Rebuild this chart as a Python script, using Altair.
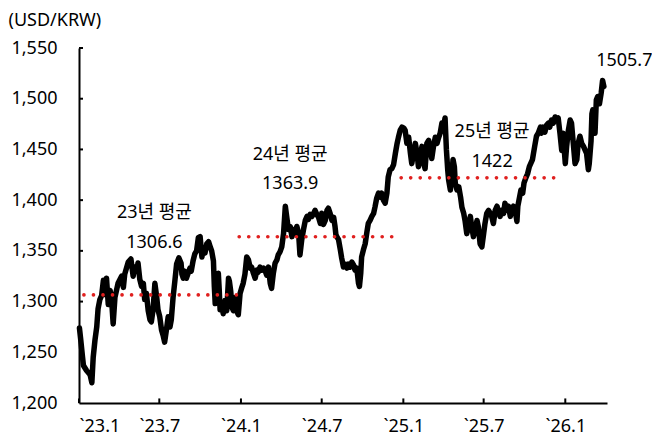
import altair as alt
import pandas as pd

# ---- USD/KRW series ----
dates = [
    "2023-01-02", "2023-01-05", "2023-01-09", "2023-01-11", "2023-01-18", "2023-01-26", "2023-01-30",
    "2023-02-02", "2023-02-06", "2023-02-10", "2023-02-13", "2023-02-17", "2023-02-21", "2023-02-25",
    "2023-02-28", "2023-03-04", "2023-03-08", "2023-03-12", "2023-03-15", "2023-03-19", "2023-03-23",
    "2023-03-27", "2023-03-30", "2023-04-07", "2023-04-11", "2023-04-14", "2023-04-22", "2023-04-28",
    "2023-05-03", "2023-05-07", "2023-05-11", "2023-05-14", "2023-05-18", "2023-05-22", "2023-05-26",
    "2023-05-29", "2023-06-02", "2023-06-06", "2023-06-10", "2023-06-13", "2023-06-17", "2023-06-21",
    "2023-06-25", "2023-06-28", "2023-07-02", "2023-07-06", "2023-07-10", "2023-07-13", "2023-07-17",
    "2023-07-21", "2023-07-25", "2023-07-28", "2023-08-01", "2023-08-05", "2023-08-09", "2023-08-14",
    "2023-08-19", "2023-08-21", "2023-08-24", "2023-08-27", "2023-08-31", "2023-09-08", "2023-09-11",
    "2023-09-15", "2023-09-19", "2023-09-23", "2023-09-27", "2023-10-01", "2023-10-05", "2023-10-08",
    "2023-10-12", "2023-10-16", "2023-10-20", "2023-10-23", "2023-10-27", "2023-10-31", "2023-11-02",
    "2023-11-04", "2023-11-07", "2023-11-11", "2023-11-13", "2023-11-15", "2023-11-19", "2023-11-22",
    "2023-11-26", "2023-11-30", "2023-12-04", "2023-12-06", "2023-12-09", "2023-12-12", "2023-12-15",
    "2023-12-19", "2023-12-22", "2023-12-26", "2023-12-30",
    "2024-01-03", "2024-01-06", "2024-01-10", "2024-01-14", "2024-01-18", "2024-01-22", "2024-01-25",
    "2024-01-29", "2024-02-02", "2024-02-06", "2024-02-09", "2024-02-13", "2024-02-17", "2024-02-21",
    "2024-02-24", "2024-02-28", "2024-03-03", "2024-03-07", "2024-03-10", "2024-03-14", "2024-03-18",
    "2024-03-22", "2024-03-25", "2024-03-29", "2024-04-02", "2024-04-06", "2024-04-10", "2024-04-13",
    "2024-04-17", "2024-04-21", "2024-04-25", "2024-04-28", "2024-05-02", "2024-05-06", "2024-05-10",
    "2024-05-13", "2024-05-17", "2024-05-21", "2024-05-25", "2024-05-29", "2024-06-01", "2024-06-05",
    "2024-06-09", "2024-06-13", "2024-06-16", "2024-06-20", "2024-06-24", "2024-06-28", "2024-07-01",
    "2024-07-05", "2024-07-09", "2024-07-13", "2024-07-16", "2024-07-20", "2024-07-24", "2024-07-28",
    "2024-07-31", "2024-08-02", "2024-08-04", "2024-08-08", "2024-08-12", "2024-08-15", "2024-08-19",
    "2024-08-23", "2024-08-27", "2024-08-30", "2024-09-03", "2024-09-07", "2024-09-11", "2024-09-14",
    "2024-09-18", "2024-09-22", "2024-09-24", "2024-09-27", "2024-09-29", "2024-10-03", "2024-10-07",
    "2024-10-11", "2024-10-14", "2024-10-18", "2024-10-22", "2024-10-26", "2024-10-29", "2024-11-02",
    "2024-11-06", "2024-11-10", "2024-11-13", "2024-11-17", "2024-11-21", "2024-11-25", "2024-11-28",
    "2024-12-02", "2024-12-06", "2024-12-10", "2024-12-14", "2024-12-18", "2024-12-21", "2024-12-25",
    "2024-12-29",
    "2025-01-02", "2025-01-05", "2025-01-09", "2025-01-13", "2025-01-17", "2025-01-20", "2025-01-24",
    "2025-01-28", "2025-02-01", "2025-02-04", "2025-02-08", "2025-02-12", "2025-02-16", "2025-02-19",
    "2025-02-23", "2025-02-27", "2025-03-03", "2025-03-06", "2025-03-10", "2025-03-14", "2025-03-18",
    "2025-03-21", "2025-03-25", "2025-03-29", "2025-04-02", "2025-04-05", "2025-04-08", "2025-04-11",
    "2025-04-13", "2025-04-17", "2025-04-20", "2025-04-23", "2025-04-26", "2025-04-28", "2025-05-02",
    "2025-05-06", "2025-05-10", "2025-05-13", "2025-05-17", "2025-05-20", "2025-05-24", "2025-05-28",
    "2025-06-01", "2025-06-04", "2025-06-08", "2025-06-12", "2025-06-16", "2025-06-19", "2025-06-23",
    "2025-06-27", "2025-07-01", "2025-07-04", "2025-07-08", "2025-07-12", "2025-07-16", "2025-07-19",
    "2025-07-23", "2025-07-27", "2025-07-31", "2025-08-03", "2025-08-07", "2025-08-11", "2025-08-15",
    "2025-08-18", "2025-08-22", "2025-08-26", "2025-08-30", "2025-09-02", "2025-09-06", "2025-09-10",
    "2025-09-14", "2025-09-16", "2025-09-20", "2025-09-23", "2025-09-27", "2025-09-30", "2025-10-05",
    "2025-10-08", "2025-10-12", "2025-10-15", "2025-10-19", "2025-10-24", "2025-10-28", "2025-11-01",
    "2025-11-06", "2025-11-08", "2025-11-12", "2025-11-16", "2025-11-20", "2025-11-24", "2025-11-27",
    "2025-12-01", "2025-12-05", "2025-12-09", "2025-12-12", "2025-12-16", "2025-12-20", "2025-12-24",
    "2025-12-27",
    "2026-01-01", "2026-01-04", "2026-01-08", "2026-01-12", "2026-01-15", "2026-01-19", "2026-01-23",
    "2026-01-27", "2026-01-30", "2026-02-03", "2026-02-07", "2026-02-11", "2026-02-15", "2026-02-18",
    "2026-02-22", "2026-02-24", "2026-02-28", "2026-03-02", "2026-03-04", "2026-03-07", "2026-03-09",
    "2026-03-12", "2026-03-15", "2026-03-19", "2026-03-23", "2026-03-26", "2026-03-29",
]

usdkrw = [
    1274, 1262, 1245, 1237, 1232, 1228, 1220,
    1245, 1262, 1275, 1293, 1302, 1306, 1321,
    1307, 1323, 1297, 1311, 1305, 1278, 1304,
    1312, 1318, 1325, 1314, 1327, 1339, 1342,
    1325, 1334, 1330, 1338, 1322, 1315, 1318,
    1302, 1308, 1291, 1282, 1280, 1292, 1318,
    1305, 1292, 1285, 1272, 1266, 1260, 1272,
    1285, 1275, 1282, 1304, 1320, 1337, 1343,
    1338, 1327, 1323, 1330, 1323, 1333, 1330,
    1340, 1347, 1350, 1363, 1364, 1344, 1352,
    1348, 1357, 1359, 1355, 1350, 1340, 1315,
    1298, 1301, 1328, 1312, 1292, 1298, 1288,
    1301, 1291, 1323, 1320, 1310, 1294, 1291,
    1304, 1291, 1287, 1308,
    1314, 1318, 1327, 1344, 1341, 1333, 1334,
    1328, 1323, 1331, 1329, 1334, 1331, 1333,
    1331, 1326, 1334, 1318, 1313, 1328, 1338,
    1341, 1346, 1349, 1354, 1367, 1394, 1384,
    1371, 1374, 1364, 1371, 1367, 1374, 1367,
    1346, 1361, 1371, 1380, 1384, 1381, 1386,
    1384, 1387, 1390, 1386, 1383, 1377, 1387,
    1376, 1380, 1390, 1392, 1387, 1380, 1383,
    1374, 1366, 1364, 1361, 1351, 1343, 1334,
    1337, 1333, 1337, 1334, 1339, 1336, 1331,
    1333, 1318, 1315, 1328, 1344, 1351, 1357,
    1369, 1377, 1380, 1384, 1387, 1393, 1402,
    1407, 1403, 1407, 1400, 1397, 1407, 1423,
    1430, 1431, 1435, 1446, 1456, 1462, 1469,
    1472,
    1471, 1469, 1456, 1462, 1446, 1436, 1446,
    1456, 1446, 1433, 1443, 1453, 1436, 1431,
    1456, 1459, 1449, 1441, 1453, 1462, 1456,
    1461, 1466, 1476, 1473, 1481, 1450, 1430,
    1420, 1410, 1423, 1440, 1433, 1417, 1410,
    1413, 1403, 1393, 1387, 1380, 1367, 1374,
    1384, 1374, 1364, 1371, 1380, 1374, 1357,
    1354, 1367, 1377, 1387, 1390, 1387, 1384,
    1377, 1390, 1394, 1390, 1384, 1390, 1387,
    1397, 1390, 1394, 1384, 1390, 1394, 1390,
    1379, 1394, 1403, 1410, 1407, 1417, 1423,
    1426, 1433, 1436, 1440, 1453, 1463, 1466,
    1472, 1466, 1472, 1467, 1474, 1476, 1472,
    1479, 1476, 1482, 1479, 1481, 1466, 1449,
    1466,
    1436, 1453, 1469, 1479, 1476, 1456, 1436,
    1440, 1456, 1463, 1456, 1453, 1449, 1446,
    1430, 1436, 1458, 1485, 1489, 1478, 1466,
    1499, 1502, 1495, 1506, 1518, 1512,
]

# ---- yearly averages ----
avg_values = [1306.6, 1363.9, 1422.0]
avg_start = ["2023-01-12", "2023-12-28", "2024-12-27"]
avg_end = ["2023-12-23", "2024-12-21", "2025-12-26"]

# ---- annotations ----
note_text = ["23년 평균", "1306.6", "24년 평균", "1363.9", "25년 평균", "1422", "1505.7"]
note_date = ["2023-06-20", "2023-06-20", "2024-04-21", "2024-04-21", "2025-07-20", "2025-07-20", "2026-05-14"]
note_value = [1387, 1358, 1445, 1416, 1467, 1438, 1537]

# ---- axis ticks ----
x_tick_dates = ["2023-01-01", "2023-07-01", "2024-01-01", "2024-07-01", "2025-01-01", "2025-07-01", "2026-01-01"]
y_tick_values = [1200, 1250, 1300, 1350, 1400, 1450, 1500, 1550]

FONT = "Noto Sans, Noto Sans CJK KR"
RED = "#e0201f"

line_df = pd.DataFrame({"date": dates, "value": usdkrw})
avg_df = pd.DataFrame({"start": avg_start, "end": avg_end, "value": avg_values})
note_df = pd.DataFrame({"date": note_date, "value": note_value, "text": note_text})
xt_df = pd.DataFrame({"date": x_tick_dates, "y0": [1200] * len(x_tick_dates), "y1": [1204.5] * len(x_tick_dates)})
yt_df = pd.DataFrame({"value": y_tick_values[1:], "d0": ["2023-01-01"] * 7, "d1": ["2023-01-10"] * 7})

x_scale = alt.Scale(
    type="utc",
    domain=[alt.DateTime(year=2023, month=1, date=1, utc=True),
            alt.DateTime(year=2026, month=4, date=5, utc=True)],
)
y_scale = alt.Scale(domain=[1200, 1550], nice=False, zero=False)

x_axis = alt.Axis(
    values=[alt.DateTime(year=int(d[:4]), month=int(d[5:7]), date=1, utc=True) for d in x_tick_dates],
    labelExpr="'`' + utcFormat(datum.value, '%y') + '.' + (utcmonth(datum.value) + 1)",
    title=None,
    ticks=False,
    grid=False,
    domainColor="black",
    domainWidth=2,
    labelFontSize=18,
    labelColor="black",
    labelPadding=14,
    labelFont=FONT,
)
y_axis = alt.Axis(
    values=y_tick_values,
    format=",d",
    title="(USD/KRW)",
    titleAngle=0,
    titleAlign="left",
    titleBaseline="middle",
    titleX=-71,
    titleY=-28,
    titleFontSize=18,
    titleFontWeight="normal",
    titleColor="black",
    titleFont=FONT,
    ticks=False,
    grid=False,
    domainColor="black",
    domainWidth=2,
    labelFontSize=18,
    labelColor="black",
    labelPadding=22,
    labelFont=FONT,
)

base_line = alt.Chart(line_df).mark_line(
    color="black", strokeWidth=5.5, strokeJoin="round", strokeCap="round"
).encode(
    x=alt.X("date:T", scale=x_scale, axis=x_axis),
    y=alt.Y("value:Q", scale=y_scale, axis=y_axis),
)

avg_rules = alt.Chart(avg_df).mark_rule(
    color=RED, strokeWidth=3.6, strokeDash=[0.1, 9.43], strokeCap="round"
).encode(
    x=alt.X("start:T", scale=x_scale),
    x2="end:T",
    y=alt.Y("value:Q", scale=y_scale),
)

notes = alt.Chart(note_df).mark_text(
    fontSize=18, color="black", align="center", baseline="middle", font=FONT
).encode(
    x=alt.X("date:T", scale=x_scale),
    y=alt.Y("value:Q", scale=y_scale),
    text="text:N",
)

x_ticks = alt.Chart(xt_df).mark_rule(color="black", strokeWidth=2).encode(
    x=alt.X("date:T", scale=x_scale),
    y=alt.Y("y0:Q", scale=y_scale),
    y2="y1:Q",
)

y_ticks = alt.Chart(yt_df).mark_rule(color="black", strokeWidth=2).encode(
    x=alt.X("d0:T", scale=x_scale),
    x2="d1:T",
    y=alt.Y("value:Q", scale=y_scale),
)

chart = alt.layer(base_line, x_ticks, y_ticks, avg_rules, notes).properties(
    width=528,
    height=355,
    autosize=alt.AutoSizeParams(type="none"),
    padding={"left": 71, "top": 40, "right": 45, "bottom": 32},
    background="white",
).configure(font=FONT).configure_view(stroke=None)

chart.save("out.html", embed_options={"renderer": "svg", "actions": False})
